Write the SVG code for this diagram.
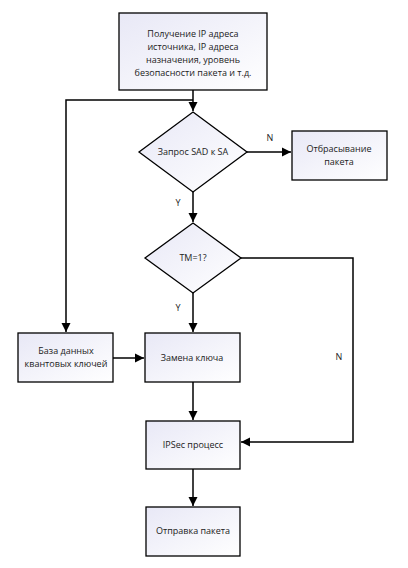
<svg xmlns="http://www.w3.org/2000/svg" width="408" height="568" viewBox="0 0 408 568">
<defs>
<linearGradient id="g" x1="0" y1="0" x2="1" y2="1">
<stop offset="0" stop-color="#e8e8f6"/>
<stop offset="1" stop-color="#ffffff"/>
</linearGradient>
<marker id="arr" markerWidth="10" markerHeight="10" refX="9" refY="5" orient="auto" markerUnits="userSpaceOnUse">
<path d="M0,0.5 L9,5 L0,9.5 Z" fill="#000"/>
</marker>
<style>
.n{fill:url(#g);stroke:#000;stroke-width:1.3}
.t{font-family:"Open Sans","Liberation Sans",sans-serif;font-size:9px;fill:#222;text-anchor:middle}
.c{fill:none;stroke:#000;stroke-width:1.5}
</style>
</defs>
<rect width="408" height="568" fill="#fff"/>
<g id="connectors">
<path class="c" d="M193,90 V111" marker-end="url(#arr)"/>
<path class="c" d="M193,100 H66 V332" marker-end="url(#arr)"/>
<path class="c" d="M247,152 H291" marker-end="url(#arr)"/>
<path class="c" d="M193,192 V222" marker-end="url(#arr)"/>
<path class="c" d="M193,293 V332" marker-end="url(#arr)"/>
<path class="c" d="M241,258 H353 V442 H241" marker-end="url(#arr)"/>
<path class="c" d="M113,358 H144" marker-end="url(#arr)"/>
<path class="c" d="M193,382 V420" marker-end="url(#arr)"/>
<path class="c" d="M193,469 V506" marker-end="url(#arr)"/>
<text class="t" x="270" y="141">N</text>
<text class="t" x="178" y="206">Y</text>
<text class="t" x="178" y="311">Y</text>
<text class="t" x="339" y="360">N</text>
</g>
<g id="start">
<rect class="n" x="119" y="13" width="148" height="77"/>
<text class="t" x="193" y="37">Получение IP адреса</text>
<text class="t" x="193" y="50">источника, IP адреса</text>
<text class="t" x="193" y="63">назначения, уровень</text>
<text class="t" x="193" y="76">безопасности пакета и т.д.</text>
</g>
<g id="sad">
<polygon class="n" points="193,112 247,152 193,192 139,152"/>
<text class="t" x="193" y="155">Запрос SAD к SA</text>
</g>
<g id="drop">
<rect class="n" x="292" y="131" width="95" height="49"/>
<text class="t" x="339" y="152">Отбрасывание</text>
<text class="t" x="339" y="165">пакета</text>
</g>
<g id="tm">
<polygon class="n" points="193,223 241,258 193,293 145,258"/>
<text class="t" x="193" y="261">TM=1?</text>
</g>
<g id="db">
<rect class="n" x="18" y="333" width="95" height="49"/>
<text class="t" x="66" y="354">База данных</text>
<text class="t" x="66" y="367">квантовых ключей</text>
</g>
<g id="replace">
<rect class="n" x="145" y="333" width="95" height="49"/>
<text class="t" x="192" y="361">Замена ключа</text>
</g>
<g id="ipsec">
<rect class="n" x="146" y="421" width="94" height="48"/>
<text class="t" x="193" y="448">IPSec процесс</text>
</g>
<g id="send">
<rect class="n" x="146" y="507" width="94" height="49"/>
<text class="t" x="193" y="534">Отправка пакета</text>
</g>
</svg>
